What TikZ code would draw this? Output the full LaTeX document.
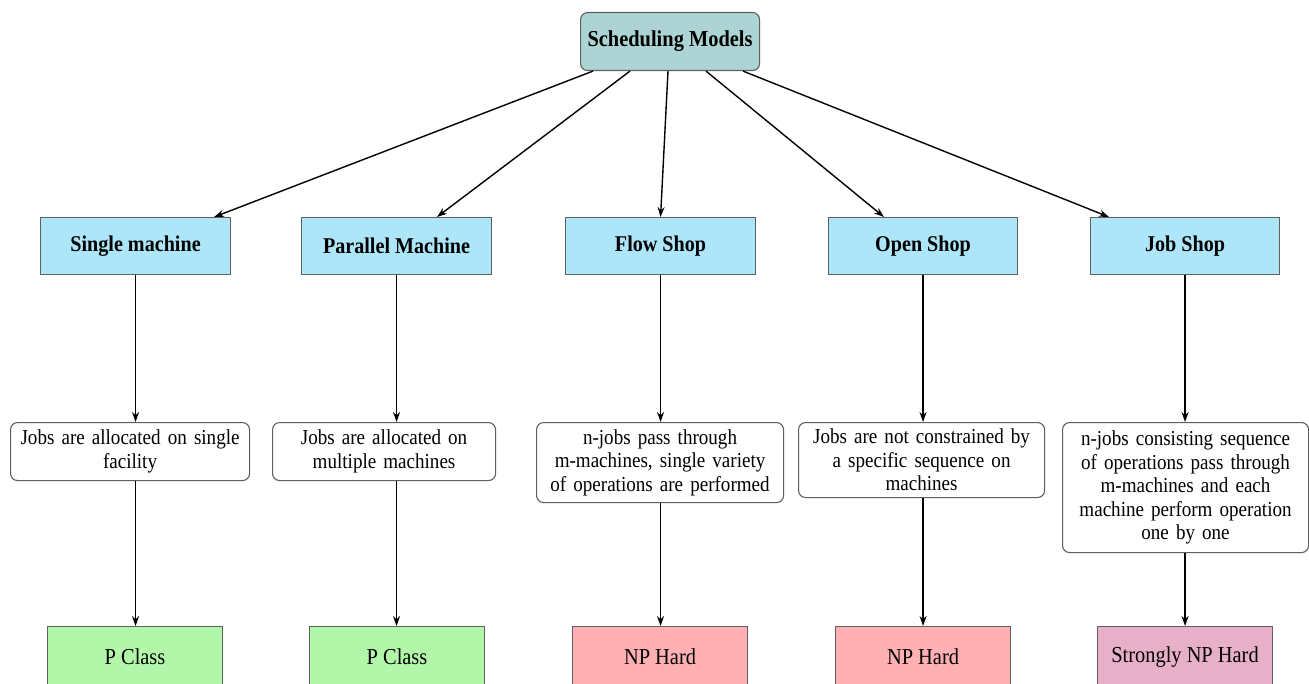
\documentclass[tikz,border=0pt]{standalone}
\usepackage{fontspec}
\setmainfont{Liberation Serif}[FakeStretch=0.895]
\usetikzlibrary{calc,arrows.meta}
\definecolor{topfill}{RGB}{172,212,212}
\definecolor{modelfill}{RGB}{172,230,248}
\definecolor{pfill}{RGB}{178,246,170}
\definecolor{npfill}{RGB}{254,176,178}
\definecolor{snpfill}{RGB}{232,176,200}
\definecolor{edge}{RGB}{95,95,95}
\tikzset{
  base/.style={draw=edge, line width=1.1pt, inner sep=0pt, align=center, anchor=north west},
  rootbox/.style={base, fill=topfill, rounded corners=7pt, font=\fontsize{22.8}{26}\selectfont\bfseries},
  modelbox/.style={base, fill=modelfill, font=\fontsize{22.5}{26}\selectfont\bfseries},
  descbox/.style={base, fill=white, rounded corners=7pt, font=\fontsize{21.3}{23.5}\selectfont},
  classbox/.style={base, font=\fontsize{22.8}{26}\selectfont},
  link/.style={line width=1.4pt, -{Stealth[length=10pt,width=7pt]}}
}
\begin{document}
\begin{tikzpicture}[x=1pt,y=-1pt]
\useasboundingbox (0,0) rectangle (1309,684);

% root
\node[rootbox, minimum width=179pt, minimum height=58pt] (root) at (580,12) {Scheduling Models};

% scheduling models
\node[modelbox, minimum width=190pt, minimum height=57pt] (sm) at (40,217) {Single machine};
\node[modelbox, minimum width=190pt, minimum height=57pt] (pm) at (301,217) {Parallel Machine};
\node[modelbox, minimum width=190pt, minimum height=57pt] (fs) at (565,217) {Flow Shop};
\node[modelbox, minimum width=189pt, minimum height=57pt] (os) at (828,217) {Open Shop};
\node[modelbox, minimum width=189pt, minimum height=57pt] (js) at (1090,217) {Job Shop};

% descriptions
\node[descbox, minimum width=239pt, minimum height=58pt, text width=237pt] (smd) at (10,422)
  {Jobs are allocated on single\\facility};
\node[descbox, minimum width=223pt, minimum height=58pt, text width=221pt] (pmd) at (272,422)
  {Jobs are allocated on\\multiple machines};
\node[descbox, minimum width=247pt, minimum height=80pt, text width=245pt] (fsd) at (536,422)
  {n-jobs pass through\\m-machines, single variety\\of operations are performed};
\node[descbox, minimum width=246pt, minimum height=75pt, text width=244pt] (osd) at (798,422)
  {Jobs are not constrained by\\a specific sequence on\\machines};
\node[descbox, minimum width=246pt, minimum height=130pt, text width=244pt] (jsd) at (1062,422)
  {n-jobs consisting sequence\\of operations pass through\\m-machines and each\\machine perform operation\\one by one};

% complexity classes
\node[classbox, fill=pfill, minimum width=175pt, minimum height=60pt] (smc) at (47,626) {P Class};
\node[classbox, fill=pfill, minimum width=175pt, minimum height=60pt] (pmc) at (309,626) {P Class};
\node[classbox, fill=npfill, minimum width=175pt, minimum height=60pt] (fsc) at (572,626) {NP Hard};
\node[classbox, fill=npfill, minimum width=175pt, minimum height=60pt] (osc) at (835,626) {NP Hard};
\node[classbox, fill=snpfill, minimum width=175pt, minimum height=60pt] (jsc) at (1097,626) {Strongly NP Hard};

% root to models
\draw[link] ($(root.south west)+(13,0)$) -- ($(sm.north east)+(-17,0)$);
\draw[link] ($(root.south west)+(50,0)$) -- ($(pm.north west)+(136,0)$);
\draw[link] ($(root.south west)+(88,0)$) -- (fs.north);
\draw[link] ($(root.south west)+(126,0)$) -- ($(os.north west)+(56,0)$);
\draw[link] ($(root.south west)+(163,0)$) -- ($(js.north west)+(19,0)$);

% models to descriptions to classes
\foreach \m in {sm,pm,fs,os,js}{
  \draw[link] (\m.south) -- (\m.south |- \m d.north);
  \draw[link] (\m.south |- \m d.south) -- (\m.south |- \m c.north);
}
\end{tikzpicture}
\end{document}
